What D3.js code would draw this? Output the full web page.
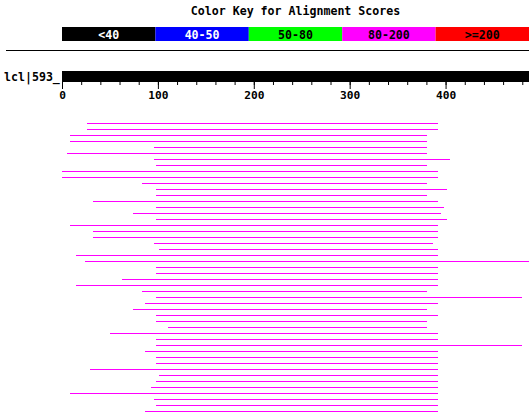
<!DOCTYPE html>
<html>
<head>
<meta charset="utf-8">
<script src="https://cdn.jsdelivr.net/npm/d3@7"></script>
<style>
  body { margin: 0; background: #fff; }
  svg text { font-family: "DejaVu Sans Mono", "Liberation Mono", monospace; font-weight: bold; }
</style>
</head>
<body>
<div id="chart"></div>
<script>
// color key
const KEY_LABELS = ['<40', '40-50', '50-80', '80-200', '>=200'];
const KEY_COLORS = ['#000000', '#0000ff', '#00ff00', '#ff00ff', '#ff0000'];
const KEY_TEXT = ['#ffffff', '#ffffff', '#000000', '#000000', '#000000'];

const QUERY_NAME = 'lcl|593_';
const QUERY_LEN = 487;
const MAJOR_TICKS = [0, 100, 200, 300, 400];
const MINOR_TICKS = d3.range(0, 481, 20);

// hit start / end on the query (residues)
const HIT_START = [26, 26, 8, 8, 96, 5, 96, 98, 0, 0,
  83, 98, 98, 32, 98, 74, 98, 8, 32, 32,
  96, 101, 15, 24, 98, 98, 63, 15, 83, 98,
  87, 74, 98, 98, 111, 50, 98, 98, 87, 98,
  98, 29, 101, 98, 93, 8, 96, 98, 87];
const HIT_END = [392, 392, 381, 381, 381, 381, 405, 381, 392, 392,
  381, 401, 381, 392, 398, 395, 401, 392, 392, 392,
  387, 392, 392, 487, 392, 392, 392, 392, 381, 480,
  392, 381, 392, 381, 381, 392, 392, 480, 392, 392,
  392, 392, 392, 392, 392, 392, 392, 392, 392];
const HIT_COLOR = '#ff00ff';

const width = 532, height = 415;
const svg = d3.select('#chart').append('svg').attr('width', width).attr('height', height);

const x = d3.scaleLinear().domain([0, QUERY_LEN]).range([62, 529]);

// title
svg.append('text').attr('x', 295.5).attr('y', 15).attr('text-anchor', 'middle')
  .attr('font-size', 11.6).attr('fill', '#000').text('Color Key for Alignment Scores');

// key boxes
const kx = d3.scaleBand().domain(KEY_LABELS).range([62, 529]);
svg.selectAll('.key').data(KEY_LABELS).enter().append('rect')
  .attr('x', d => kx(d)).attr('y', 27).attr('width', kx.bandwidth()).attr('height', 14)
  .attr('fill', (d, i) => KEY_COLORS[i]);
svg.selectAll('.keylbl').data(KEY_LABELS).enter().append('text')
  .attr('x', d => kx(d) + kx.bandwidth() / 2).attr('y', 38.5).attr('text-anchor', 'middle')
  .attr('font-size', 11.6).attr('fill', (d, i) => KEY_TEXT[i]).text(d => d);

// separator rule
svg.append('rect').attr('x', 6).attr('y', 50).attr('width', 523).attr('height', 1).attr('fill', '#000');

// query bar
svg.append('text').attr('x', 4).attr('y', 81).attr('font-size', 11.6).attr('fill', '#000').text(QUERY_NAME);
svg.append('rect').attr('x', x(0)).attr('y', 71).attr('width', x(QUERY_LEN) - x(0)).attr('height', 11).attr('fill', '#000');

// axes
const gMinor = svg.append('g').attr('transform', 'translate(0,82)')
  .call(d3.axisBottom(x).tickValues(MINOR_TICKS).tickSize(3).tickFormat(''));
const gMajor = svg.append('g').attr('transform', 'translate(0,82)')
  .call(d3.axisBottom(x).tickValues(MAJOR_TICKS).tickSize(7).tickPadding(2).tickFormat(d3.format('d')));
svg.selectAll('.domain').remove();
svg.selectAll('.tick line').attr('stroke', '#000');
gMajor.selectAll('text').attr('font-size', 11.2).attr('fill', '#000')
  .attr('font-family', '"DejaVu Sans Mono", monospace');

// hits
const y = d3.scaleLinear().domain([0, HIT_START.length - 1]).range([123, 123 + 6 * (HIT_START.length - 1)]);
svg.selectAll('.hit').data(HIT_START).enter().append('rect')
  .attr('x', d => Math.round(x(d)))
  .attr('y', (d, i) => y(i))
  .attr('width', (d, i) => Math.round(x(HIT_END[i])) - Math.round(x(d)))
  .attr('height', 1)
  .attr('fill', HIT_COLOR);
</script>
</body>
</html>
